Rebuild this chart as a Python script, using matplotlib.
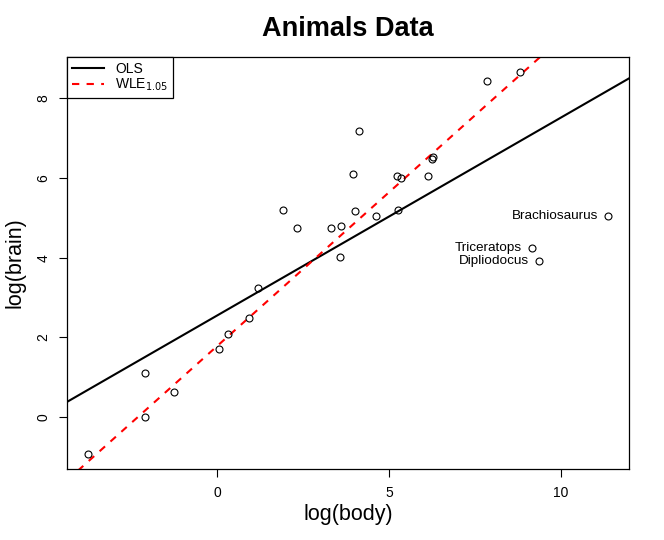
import numpy as np
import matplotlib
matplotlib.use("Agg")
import matplotlib.pyplot as plt

plt.rcParams['font.family'] = ['Liberation Sans', 'DejaVu Sans']

# MASS Animals data (body kg, brain g)
animals = ["Mountain beaver", "Cow", "Grey wolf", "Goat", "Guinea pig", "Dipliodocus",
           "Asian elephant", "Donkey", "Horse", "Potar monkey", "Cat", "Giraffe",
           "Gorilla", "Human", "African elephant", "Triceratops", "Rhesus monkey",
           "Kangaroo", "Golden hamster", "Mouse", "Rabbit", "Sheep", "Jaguar",
           "Chimpanzee", "Rat", "Brachiosaurus", "Mole", "Pig"]
body = [1.35, 465, 36.33, 27.66, 1.04, 11700, 2547, 187.1, 521, 10, 3.3, 529,
        207, 62, 6654, 9400, 6.8, 35, 0.12, 0.023, 2.5, 55.5, 100, 52.16, 0.28,
        87000, 0.122, 192]
brain = [8.1, 423, 119.5, 115, 5.5, 50, 4603, 419, 655, 115, 25.6, 680, 406,
         1320, 5712, 70, 179, 56, 1, 0.4, 12.1, 175, 157, 440, 1.9, 154.5, 3, 180]
labelled = ["Brachiosaurus", "Triceratops", "Dipliodocus"]

# WLE fit coefficients
wle_intercept = 1.79
wle_slope = 0.771

x = np.log(body)
y = np.log(brain)
ols_slope, ols_intercept = np.polyfit(x, y, 1)

fig = plt.figure(figsize=(6.64, 5.40), dpi=100)
fig.subplots_adjust(left=67/664, right=629/664, top=1-57/540, bottom=1-469/540)
ax = fig.add_subplot(111)

ax.plot(x, y, 'o', mfc='none', mec='black', ms=5, mew=0.8, zorder=3)

xr = x.max() - x.min()
yr = y.max() - y.min()
xlim = (x.min() - 0.04*xr, x.max() + 0.04*xr)
ylim = (y.min() - 0.04*yr, y.max() + 0.04*yr)
xx = np.array(xlim)
ax.plot(xx, ols_intercept + ols_slope*xx, color='black', lw=1.5, label='OLS')
ax.plot(xx, wle_intercept + wle_slope*xx, color='red', lw=1.5, ls=(0, (3.5, 3.5)),
        label='WLE$_{1.05}$')
ax.set_xlim(xlim)
ax.set_ylim(ylim)

for name in labelled:
    i = animals.index(name)
    ax.text(x[i] - 0.3, y[i], name, ha='right', va='center', fontsize=9.7)

ax.set_xticks([0, 5, 10])
ax.set_yticks([0, 2, 4, 6, 8])
ax.tick_params(direction='out', length=6, labelsize=10, pad=6, width=0.8)
plt.setp(ax.get_yticklabels(), rotation=90, va='center')
for s in ax.spines.values():
    s.set_linewidth(0.9)

ax.set_xlabel('log(body)', fontsize=15.5, labelpad=3)
ax.set_ylabel('log(brain)', fontsize=15.5, labelpad=8)
ax.set_title('Animals Data', fontsize=19.5, fontweight='bold', pad=15)

leg = ax.legend(loc='upper left', fontsize=10, fancybox=False, framealpha=1,
                edgecolor='black', borderaxespad=0, handlelength=2.3,
                borderpad=0.35, labelspacing=0.05)
leg.get_frame().set_linewidth(0.9)

fig.savefig('out.png', dpi=100)
